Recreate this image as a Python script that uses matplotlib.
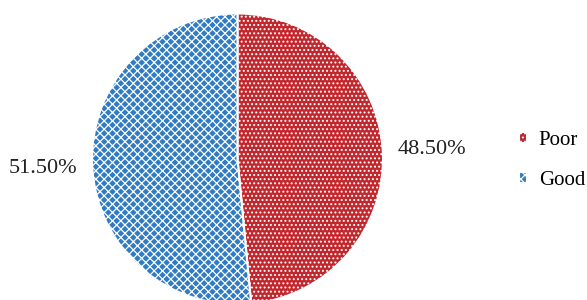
import matplotlib.pyplot as plt

labels = ["Poor", "Good"]
shares = [48.50, 51.50]
colors = ["#c1272d", "#2f7bc4"]
hatches = ["....", "xxxx"]

plt.rcParams["font.family"] = ["Liberation Serif", "DejaVu Serif"]
plt.rcParams["hatch.linewidth"] = 0.9

fig = plt.figure(figsize=(5.87, 3.00), dpi=100)
# pie box: centre ~ (237.5,159) px, radius ~145.5 px
cx, cy, r = 237.5, 159, 145.5
ax = fig.add_axes([(cx - r) / 587, (300 - cy - r) / 300, 2 * r / 587, 2 * r / 300])

wedges, texts, autotexts = ax.pie(
    shares, colors=colors, startangle=90, counterclock=False,
    autopct="%.2f%%", pctdistance=1.34,
    wedgeprops=dict(edgecolor="white", linewidth=1.5),
    textprops=dict(fontsize=16, color="#222222"),
)
for w, h in zip(wedges, hatches):
    w.set_hatch(h)
ax.set_xlim(-1, 1)
ax.set_ylim(-1, 1)
ax.set_aspect("equal")

fig.legend(wedges, labels, loc="center left", bbox_to_anchor=(519 / 587, 0.465),
           frameon=False, fontsize=15, handlelength=0.4, handleheight=0.4,
           handletextpad=0.55, labelspacing=1.0, borderpad=0, borderaxespad=0)

fig.savefig("out.png", dpi=100)
